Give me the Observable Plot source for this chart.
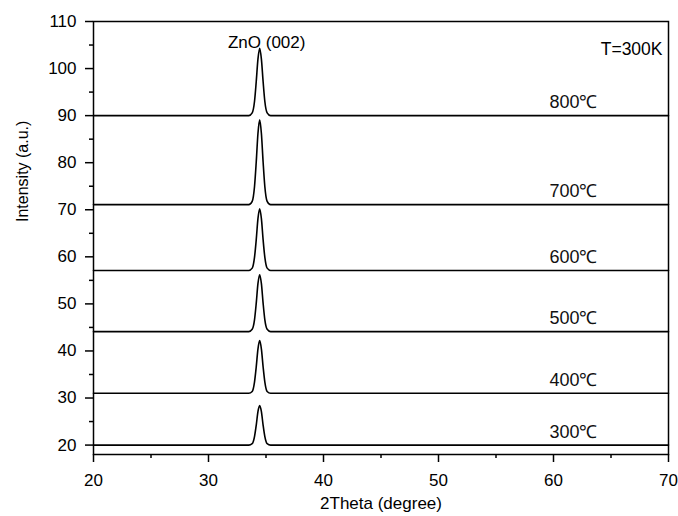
<!DOCTYPE html>
<html>
<head>
<meta charset="utf-8">
<script src="https://cdn.jsdelivr.net/npm/d3@7"></script>
<script src="https://cdn.jsdelivr.net/npm/@observablehq/plot@0.6"></script>
<style>
  html, body { margin: 0; padding: 0; background: #fff; }
  #chart { width: 678px; height: 516px; }
</style>
</head>
<body>
<div id="chart"></div>
<script>
// 2Theta sample positions (degree)
const twoTheta = [20, 33.5, 33.8, 34.0, 34.15, 34.3, 34.45, 34.6, 34.75, 34.9, 35.1, 35.4, 70];

// Intensity values, one array per annealing temperature
const i300 = [20, 20, 20.3, 21.8, 24.2, 27.1, 28.4, 27.1, 24.2, 21.8, 20.3, 20, 20];
const i400 = [31, 31, 31.4, 33.4, 36.6, 40.4, 42.2, 40.4, 36.6, 33.4, 31.4, 31, 31];
const i500 = [44.1, 44.1, 44.6, 46.6, 50.1, 54.3, 56.2, 54.3, 50.1, 46.6, 44.6, 44.1, 44.1];
const i600 = [57.1, 57.1, 57.6, 59.9, 63.6, 68.1, 70.2, 68.1, 63.6, 59.9, 57.6, 57.1, 57.1];
const i700 = [71.1, 71.1, 71.8, 74.9, 80.1, 86.2, 89.1, 86.2, 80.1, 74.9, 71.8, 71.1, 71.1];
const i800 = [90, 90, 90.6, 93, 97.2, 102, 104.3, 102, 97.2, 93, 90.6, 90, 90];

const seriesNames = ["300℃", "400℃", "500℃", "600℃", "700℃", "800℃"];
const seriesValues = [i300, i400, i500, i600, i700, i800];

const xMajorTicks = [20, 30, 40, 50, 60, 70];
const xMinorTicks = [25, 35, 45, 55, 65];
const yMajorTicks = [20, 30, 40, 50, 60, 70, 80, 90, 100, 110];
const yMinorTicks = [25, 35, 45, 55, 65, 75, 85, 95, 105];

const peakLabel = "ZnO (002)";
const peakPosition = 34.45;
const tempLabel = "T=300K";

// build table
const rows = [];
seriesValues.forEach((vals, k) => {
  vals.forEach((v, j) => rows.push({s: seriesNames[k], x: twoTheta[j], y: v}));
});
const labelRows = seriesValues.map((vals, k) => ({s: seriesNames[k], y: vals[0]}));

const font = "'Liberation Sans', Arial, Helvetica, sans-serif";

const chart = Plot.plot({
  width: 678,
  height: 516,
  marginLeft: 93,
  marginRight: 10,
  marginTop: 21,
  marginBottom: 62,
  style: {fontFamily: font, color: "#000", background: "#fff", overflow: "visible"},
  x: {domain: [20, 70]},
  y: {domain: [18, 110]},
  marks: [
    Plot.frame({stroke: "#000", strokeWidth: 1.5}),
    Plot.axisX({ticks: xMajorTicks, tickSize: 8, tickPadding: 11, fontSize: 17, strokeWidth: 1.5,
      label: "2Theta (degree)", labelAnchor: "center", labelArrow: "none", labelOffset: 54}),
    Plot.axisX({ticks: xMinorTicks, tickSize: 4, text: null, label: null, strokeWidth: 1.5}),
    Plot.axisY({ticks: yMajorTicks, tickSize: 8, tickPadding: 9, fontSize: 17, strokeWidth: 1.5, label: null}),
    Plot.axisY({ticks: yMinorTicks, tickSize: 4, text: null, label: null, strokeWidth: 1.5}),
    Plot.text(["Intensity (a.u.)"], {frameAnchor: "left", rotate: -90, dx: -71, dy: -16, fontSize: 16, fill: "#000"}),
    Plot.line(rows, {x: "x", y: "y", z: "s", curve: "monotone-x", stroke: "#000", strokeWidth: 1.6}),
    Plot.text(labelRows, {y: "y", text: "s", frameAnchor: "right", textAnchor: "end", dx: -71, dy: -13, fontSize: 18, fill: "#111"}),
    Plot.text([peakLabel], {x: () => peakPosition, frameAnchor: "top", dx: 7, dy: 14, fontSize: 17, fill: "#000"}),
    Plot.text([tempLabel], {frameAnchor: "top-right", textAnchor: "end", dx: -6, dy: 21, fontSize: 17.5, fill: "#000"})
  ]
});
document.getElementById("chart").appendChild(chart);
</script>
</body>
</html>
